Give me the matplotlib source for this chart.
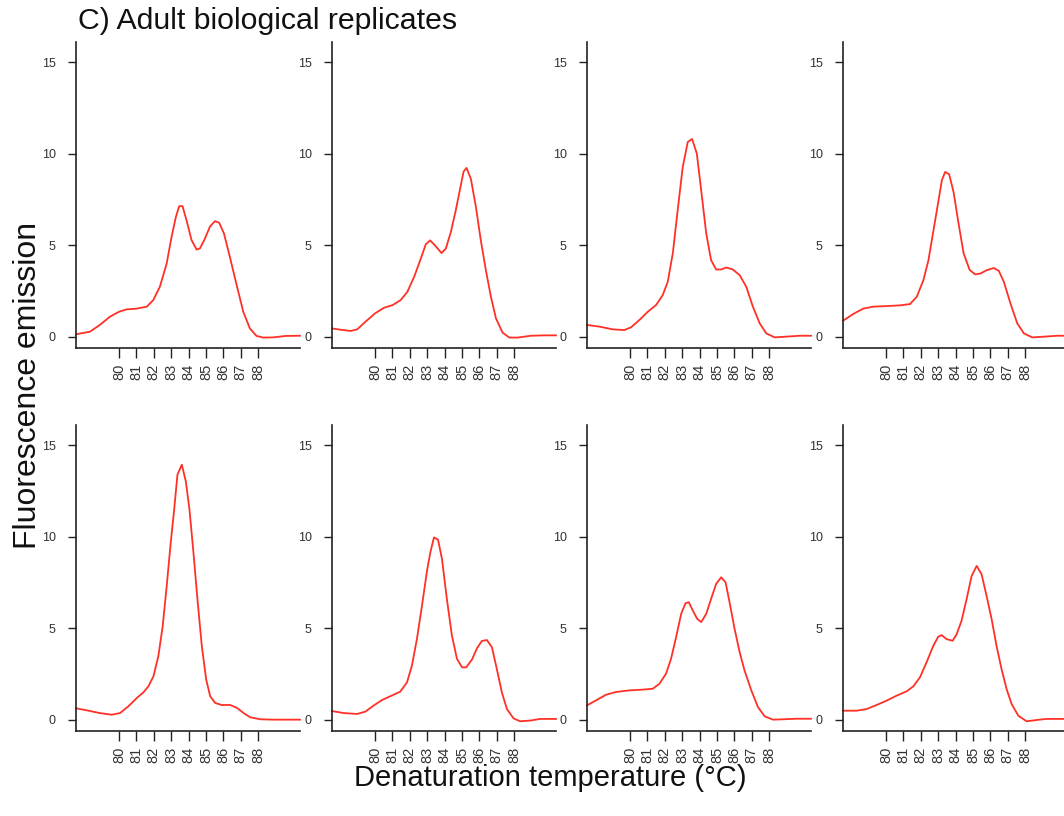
import matplotlib.pyplot as plt

plt.rcParams["font.family"] = ["Liberation Sans", "DejaVu Sans"]

# melt curves, one (temperature, fluorescence) pair per replicate
rep1_temp = [77.53, 78.33, 78.9, 79.48, 80.0, 80.44, 81.0, 81.6, 81.97, 82.35, 82.74, 83.02, 83.27, 83.46,
             83.65, 83.88, 84.17, 84.46, 84.65, 84.94, 85.22, 85.51, 85.76, 86.03, 86.37, 86.76, 87.14,
             87.52, 87.9, 88.29, 88.86, 89.6, 90.4]
rep1_fluor = [0.13, 0.27, 0.64, 1.09, 1.36, 1.49, 1.53, 1.64, 2.0, 2.73, 4.0, 5.45, 6.55, 7.13,
              7.13, 6.36, 5.27, 4.76, 4.82, 5.36, 6.0, 6.31, 6.22, 5.64, 4.36, 2.82, 1.36,
              0.45, 0.04, -0.05, -0.04, 0.04, 0.05]

rep2_temp = [77.53, 78.02, 78.6, 78.98, 79.46, 80.0, 80.52, 81.0, 81.48, 81.86, 82.25, 82.63, 82.92, 83.17,
             83.49, 83.82, 84.07, 84.36, 84.64, 84.89, 85.09, 85.26, 85.51, 85.8, 86.08, 86.37, 86.66,
             86.95, 87.33, 87.72, 88.2, 88.96, 89.73, 90.4]
rep2_fluor = [0.45, 0.38, 0.31, 0.4, 0.82, 1.27, 1.58, 1.72, 2.0, 2.45, 3.27, 4.26, 5.05, 5.26,
              4.94, 4.57, 4.81, 5.72, 6.9, 8.08, 9.02, 9.22, 8.62, 7.08, 5.26, 3.63, 2.18,
              1.0, 0.22, -0.05, -0.05, 0.05, 0.07, 0.07]

rep3_temp = [77.53, 78.23, 79.0, 79.67, 80.06, 80.54, 81.02, 81.5, 81.88, 82.17, 82.46, 82.74, 83.03, 83.32,
             83.57, 83.84, 84.09, 84.38, 84.66, 84.95, 85.24, 85.53, 85.91, 86.3, 86.68, 87.06, 87.45,
             87.83, 88.31, 88.98, 89.75, 90.4]
rep3_fluor = [0.64, 0.55, 0.4, 0.36, 0.51, 0.91, 1.36, 1.73, 2.27, 3.0, 4.55, 6.91, 9.27, 10.64,
              10.8, 10.0, 8.0, 5.64, 4.18, 3.67, 3.67, 3.78, 3.67, 3.36, 2.73, 1.64, 0.73,
              0.18, -0.04, 0.0, 0.05, 0.05]

rep4_temp = [77.53, 78.12, 78.69, 79.27, 80.04, 80.81, 81.38, 81.77, 82.15, 82.44, 82.73, 83.02, 83.21, 83.4,
             83.63, 83.88, 84.17, 84.46, 84.81, 85.13, 85.42, 85.81, 86.19, 86.48, 86.77, 87.15, 87.54,
             87.92, 88.4, 89.08, 89.85, 90.4]
rep4_fluor = [0.87, 1.24, 1.53, 1.64, 1.67, 1.71, 1.78, 2.18, 3.09, 4.18, 5.82, 7.45, 8.55, 9.0,
              8.87, 7.91, 6.18, 4.55, 3.64, 3.4, 3.45, 3.64, 3.75, 3.6, 3.0, 1.82, 0.73,
              0.18, -0.04, 0.0, 0.05, 0.05]

rep5_temp = [77.53, 78.14, 78.9, 79.58, 80.06, 80.54, 81.02, 81.4, 81.69, 81.98, 82.26, 82.51, 82.74, 82.97,
             83.17, 83.36, 83.61, 83.84, 84.05, 84.28, 84.51, 84.76, 85.01, 85.24, 85.53, 85.91, 86.39,
             86.78, 87.16, 87.54, 88.12, 88.89, 89.65, 90.4]
rep5_fluor = [0.62, 0.51, 0.36, 0.27, 0.36, 0.73, 1.18, 1.49, 1.82, 2.37, 3.46, 5.1, 7.29, 9.65,
              11.48, 13.39, 13.93, 13.02, 11.48, 9.11, 6.56, 4.01, 2.19, 1.28, 0.91, 0.8, 0.8,
              0.64, 0.36, 0.13, 0.02, 0.0, 0.0, 0.0]

rep6_temp = [77.53, 78.2, 78.97, 79.45, 79.92, 80.4, 80.88, 81.45, 81.84, 82.12, 82.41, 82.7, 82.99, 83.18,
             83.39, 83.62, 83.85, 84.13, 84.42, 84.71, 85.0, 85.24, 85.57, 85.86, 86.14, 86.43, 86.72,
             87.0, 87.29, 87.58, 87.96, 88.34, 88.92, 89.49, 90.4]
rep6_fluor = [0.47, 0.36, 0.31, 0.44, 0.77, 1.07, 1.28, 1.53, 2.04, 2.95, 4.41, 6.23, 8.14, 9.14,
              9.96, 9.84, 8.78, 6.59, 4.59, 3.32, 2.86, 2.86, 3.28, 3.9, 4.3, 4.35, 3.95,
              2.77, 1.49, 0.58, 0.07, -0.09, -0.05, 0.04, 0.04]

rep7_temp = [77.53, 78.04, 78.62, 79.19, 79.96, 80.73, 81.31, 81.69, 82.07, 82.36, 82.65, 82.94, 83.19, 83.38,
             83.61, 83.86, 84.09, 84.38, 84.66, 84.95, 85.24, 85.49, 85.72, 86.01, 86.3, 86.58, 86.97,
             87.35, 87.74, 88.21, 88.79, 89.56, 90.4]
rep7_fluor = [0.78, 1.05, 1.36, 1.51, 1.6, 1.64, 1.69, 1.96, 2.51, 3.33, 4.51, 5.78, 6.36, 6.42,
              5.96, 5.51, 5.33, 5.78, 6.6, 7.42, 7.78, 7.51, 6.42, 4.96, 3.69, 2.69, 1.6,
              0.69, 0.18, 0.0, 0.02, 0.05, 0.05]

rep8_temp = [77.53, 78.32, 78.89, 79.46, 80.04, 80.61, 81.19, 81.57, 81.95, 82.33, 82.72, 83.0, 83.2, 83.48,
             83.83, 84.06, 84.34, 84.63, 84.92, 85.21, 85.49, 85.78, 86.07, 86.35, 86.64, 86.93, 87.22,
             87.6, 88.08, 88.65, 89.22, 90.2, 90.4]
rep8_fluor = [0.49, 0.49, 0.58, 0.8, 1.04, 1.31, 1.55, 1.82, 2.31, 3.13, 4.04, 4.53, 4.62, 4.4,
              4.31, 4.67, 5.4, 6.58, 7.85, 8.4, 7.95, 6.76, 5.49, 4.04, 2.76, 1.67, 0.85,
              0.22, -0.09, -0.02, 0.04, 0.04, 0.04]

replicates = [
    (rep1_temp, rep1_fluor), (rep2_temp, rep2_fluor), (rep3_temp, rep3_fluor), (rep4_temp, rep4_fluor),
    (rep5_temp, rep5_fluor), (rep6_temp, rep6_fluor), (rep7_temp, rep7_fluor), (rep8_temp, rep8_fluor),
]

x_ticks = [80, 81, 82, 83, 84, 85, 86, 87, 88]
y_ticks = [0, 5, 10, 15]

W, H = 1064, 816
fig = plt.figure(figsize=(W / 100, H / 100), dpi=100)

col_left = [76, 332, 587, 843]
row_top = [42, 425]
panel_w, panel_h = 224, 306

for i, (temp, fluor) in enumerate(replicates):
    r, c = divmod(i, 4)
    left = col_left[c] / W
    bottom = 1 - (row_top[r] + panel_h) / H
    ax = fig.add_axes([left, bottom, panel_w / W, panel_h / H])
    ax.plot(temp, fluor, color="#ff3026", lw=1.3, clip_on=False)
    ax.set_xlim(77.53, 90.4)
    ax.set_ylim(-0.62, 16.1)
    for side in ("top", "right"):
        ax.spines[side].set_visible(False)
    for side in ("left", "bottom"):
        ax.spines[side].set_color("#222222")
        ax.spines[side].set_linewidth(1.2)
    ax.set_xticks(x_ticks)
    ax.set_xticklabels([str(t) for t in x_ticks], rotation=90)
    ax.set_yticks(y_ticks)
    ax.tick_params(axis="x", length=7, width=1.0, color="#222222", pad=4,
                   labelsize=10.5, labelcolor="#333333")
    ax.tick_params(axis="y", length=5.5, width=1.0, color="#222222", pad=9,
                   labelsize=9, labelcolor="#333333")

fig.text(78 / W, 1 - 21 / H, "C) Adult biological replicates", fontsize=21.8,
         ha="left", va="center", color="#111111")
fig.text(550 / W, 1 - 778 / H, "Denaturation temperature (\u00b0C)", fontsize=21,
         ha="center", va="center", color="#111111")
fig.text(28 / W, 1 - 385 / H, "Fluorescence emission", fontsize=23, rotation=90,
         ha="center", va="center", color="#111111")

fig.savefig("out.png", dpi=100)
